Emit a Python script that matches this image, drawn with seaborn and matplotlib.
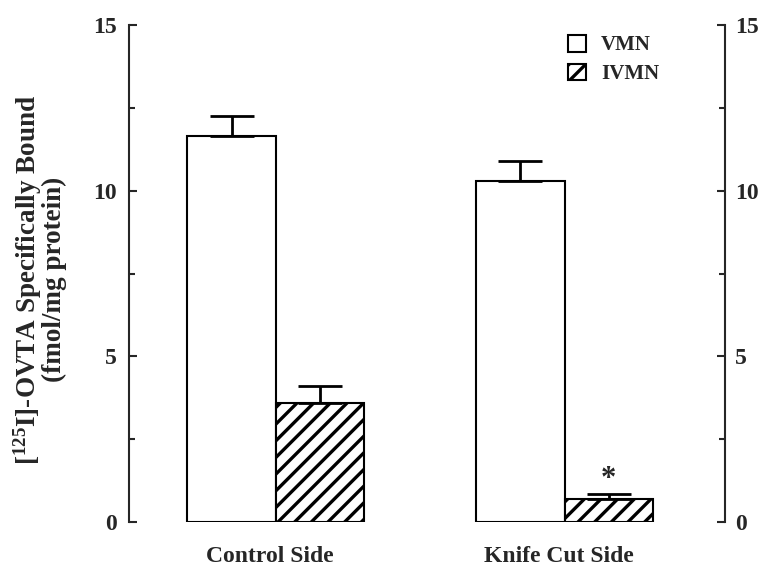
import matplotlib
matplotlib.use("Agg")
import matplotlib.pyplot as plt
import matplotlib.transforms as mtransforms
import pandas as pd
import seaborn as sns
from matplotlib.patches import Patch
from matplotlib.ticker import MultipleLocator

sides = ["Control Side", "Knife Cut Side"]
nuclei = ["VMN", "IVMN"]
vmn_mean = [11.65, 10.3]
vmn_sem = [0.6, 0.6]
ivmn_mean = [3.6, 0.7]
ivmn_sem = [0.5, 0.15]
y_ticks = [0, 5, 10, 15]

sns.set_theme(style="ticks")
plt.rcParams["font.family"] = ["Liberation Serif", "DejaVu Serif"]
plt.rcParams["font.weight"] = "bold"
plt.rcParams["mathtext.fontset"] = "custom"
plt.rcParams["mathtext.rm"] = "Liberation Serif:bold"
plt.rcParams["mathtext.bf"] = "Liberation Serif:bold"
plt.rcParams["mathtext.it"] = "Liberation Serif:bold"
plt.rcParams["mathtext.default"] = "bf"
plt.rcParams["hatch.linewidth"] = 2.4
plt.rcParams["hatch.color"] = "black"

df = pd.DataFrame({
    "side": sides * 2,
    "nucleus": [nuclei[0]] * 2 + [nuclei[1]] * 2,
    "value": vmn_mean + ivmn_mean,
})
sems = {nuclei[0]: vmn_sem, nuclei[1]: ivmn_sem}

fig = plt.figure(figsize=(7.69, 5.70), dpi=100)
ax = fig.add_axes([0.168, 0.084, 0.775, 0.872])
sns.barplot(
    data=df, x="side", y="value", hue="nucleus", order=sides, hue_order=nuclei,
    palette=["white", "white"], edgecolor="black", linewidth=1.5,
    width=0.611, gap=0, errorbar=None, legend=False, ax=ax,
)

for container, nuc in zip(ax.containers, nuclei):
    xs = [p.get_x() + p.get_width() / 2 for p in container]
    tops = [p.get_height() for p in container]
    if nuc == nuclei[1]:
        for p in container:
            p.set_hatch("//")
    ax.errorbar(xs, tops, yerr=[[0] * len(xs), sems[nuc]], fmt="none",
                ecolor="black", elinewidth=2, capsize=15.5, capthick=2, zorder=1)

# significance marker above knife-cut IVMN bar
star_bar = ax.containers[1][1]
ax.annotate("*", (star_bar.get_x() + star_bar.get_width() / 2,
                  star_bar.get_height() + ivmn_sem[1]),
            xytext=(0, 0), textcoords="offset points",
            ha="center", va="bottom", fontsize=22, fontweight="bold")

ax.set_xlim(-0.507, 1.556)
ax.set_ylim(0, 15)
ax.set_yticks(y_ticks)
ax.yaxis.set_minor_locator(MultipleLocator(2.5))
ax.tick_params(axis="y", which="both", direction="in", width=1.5,
               labelsize=17, pad=9)
ax.tick_params(axis="y", which="major", length=6)
ax.tick_params(axis="y", which="minor", length=4)
ax.tick_params(axis="x", length=0, labelsize=17, pad=17)
shift = mtransforms.ScaledTranslation(-6 / 100, 0, fig.dpi_scale_trans)
for lbl in ax.get_xticklabels():
    lbl.set_transform(lbl.get_transform() + shift)
ax.set_xlabel("")
ax.set_ylabel("[$^{125}$I]-OVTA Specifically Bound\n(fmol/mg protein)",
              fontsize=19.5, fontweight="bold", linespacing=0.92)
ax.yaxis.set_label_coords(-0.104, 0.488)

for s in ["top", "bottom"]:
    ax.spines[s].set_visible(False)
ax.spines["left"].set_linewidth(1.5)
ax.spines["right"].set_visible(False)

ax2 = ax.twinx()
ax2.set_ylim(0, 15)
ax2.set_yticks(y_ticks)
ax2.yaxis.set_minor_locator(MultipleLocator(2.5))
ax2.tick_params(axis="y", which="both", direction="in", width=1.5,
                labelsize=17, pad=7)
ax2.tick_params(axis="y", which="major", length=6)
ax2.tick_params(axis="y", which="minor", length=4)
for s in ["top", "bottom", "left"]:
    ax2.spines[s].set_visible(False)
ax2.spines["right"].set_linewidth(1.5)

handles = [
    Patch(facecolor="white", edgecolor="black", linewidth=1.5, label="VMN"),
    Patch(facecolor="white", edgecolor="black", linewidth=1.5, hatch="//",
          label="IVMN"),
]
ax.legend(handles=handles, loc="upper left", bbox_to_anchor=(0.722, 0.997),
          frameon=False, fontsize=15, handlelength=0.85, handleheight=0.85,
          handletextpad=0.75, labelspacing=0.4, borderaxespad=0)

fig.savefig("out.png", dpi=100)
